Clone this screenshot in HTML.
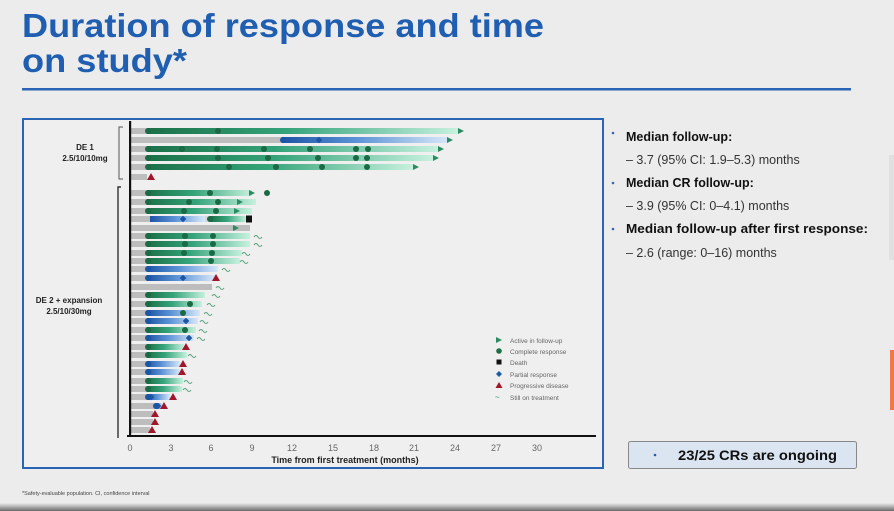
<!DOCTYPE html>
<html><head><meta charset="utf-8"><style>
html,body{margin:0;padding:0;background:#ececec;}
svg{display:block;font-family:"Liberation Sans",sans-serif;}
</style></head><body>
<svg id="s" width="894" height="511" viewBox="0 0 894 511" xmlns="http://www.w3.org/2000/svg">
<defs>
<linearGradient id="gg" x1="0" x2="1" y1="0" y2="0"><stop offset="0" stop-color="#1b7048"/><stop offset="0.45" stop-color="#35a47a"/><stop offset="1" stop-color="#c6f1df"/></linearGradient>
<linearGradient id="bg" x1="0" x2="1" y1="0" y2="0"><stop offset="0" stop-color="#1c55a6"/><stop offset="0.45" stop-color="#5c93d6"/><stop offset="1" stop-color="#d6e7f8"/></linearGradient>
<linearGradient id="sh" x1="0" x2="0" y1="0" y2="1"><stop offset="0" stop-color="#ececec"/><stop offset="1" stop-color="#6a6a6a"/></linearGradient>
</defs>
<rect width="894" height="511" fill="#ececec"/>
<text x="22" y="37" font-size="33" font-weight="bold" fill="#1f5eb0" textLength="522" lengthAdjust="spacingAndGlyphs">Duration of response and time</text>
<text x="22" y="72" font-size="33" font-weight="bold" fill="#1f5eb0" textLength="165" lengthAdjust="spacingAndGlyphs">on study*</text>
<rect x="22" y="88" width="829" height="2.5" fill="#2a64b4"/>
<rect x="23" y="119" width="580" height="349" fill="#efefef" stroke="#2a64b4" stroke-width="2"/>
<g id="bars"></g>
<!-- axes -->
<rect x="129" y="121" width="2.2" height="316" fill="#111"/>
<rect x="127" y="435" width="469" height="2" fill="#111"/>
<g id="ticks" font-size="9" fill="#666" text-anchor="middle">
<text x="130" y="451">0</text><text x="171" y="451">3</text><text x="211" y="451">6</text><text x="252" y="451">9</text><text x="292" y="451">12</text><text x="333" y="451">15</text><text x="374" y="451">18</text><text x="414" y="451">21</text><text x="455" y="451">24</text><text x="496" y="451">27</text><text x="537" y="451">30</text>
</g>
<text x="345" y="463" font-size="9" font-weight="bold" fill="#222" text-anchor="middle">Time from first treatment (months)</text>
<!-- group brackets -->
<path d="M123,127 H119 V179 H123" fill="none" stroke="#555" stroke-width="1"/>
<path d="M121,187 H118 V438" fill="none" stroke="#333" stroke-width="1.4"/>
<text x="85" y="150" font-size="8" font-weight="bold" fill="#222" text-anchor="middle">DE 1</text>
<text x="85" y="161" font-size="8" font-weight="bold" fill="#222" text-anchor="middle">2.5/10/10mg</text>
<text x="69" y="303" font-size="8" font-weight="bold" fill="#222" text-anchor="middle">DE 2 + expansion</text>
<text x="69" y="314" font-size="8" font-weight="bold" fill="#222" text-anchor="middle">2.5/10/30mg</text>
<!-- legend -->
<g font-size="6.5" fill="#666">
<path d="M496,337 L502,340 L496,343Z" fill="#2a8a60"/><text x="510" y="343">Active in follow-up</text>
<circle cx="499" cy="351" r="2.8" fill="#1e6f48"/><text x="510" y="354">Complete response</text>
<rect x="496.5" y="359.5" width="5" height="5" fill="#111"/><text x="510" y="365">Death</text>
<path d="M499,371 L502,374 L499,377 L496,374Z" fill="#1d5aa8"/><text x="510" y="377">Partial response</text>
<path d="M499,382 L502.5,388 L495.5,388Z" fill="#a0162a"/><text x="510" y="388">Progressive disease</text>
<text x="495" y="400" fill="#2a8a60" font-size="8">~</text><text x="510" y="400">Still on treatment</text>
</g>
<!-- right panel -->
<g font-size="12.5" fill="#111">
<circle cx="613" cy="133" r="1.3" fill="#3a6aa6"/><text x="626" y="141" font-weight="bold">Median follow-up:</text>
<text x="626" y="164" fill="#333">–  3.7 (95% CI: 1.9–5.3) months</text>
<circle cx="613" cy="183" r="1.3" fill="#3a6aa6"/><text x="626" y="187" font-weight="bold">Median CR follow-up:</text>
<text x="626" y="210" fill="#333">–  3.9 (95% CI: 0–4.1) months</text>
<circle cx="613" cy="229" r="1.3" fill="#3a6aa6"/><text x="626" y="233" font-weight="bold" textLength="242" lengthAdjust="spacingAndGlyphs">Median follow-up after first response:</text>
<text x="626" y="257" fill="#333">–  2.6 (range: 0–16) months</text>
</g>
<rect x="628.5" y="441.5" width="228" height="27" rx="2" fill="#dbe5f1" stroke="#888" stroke-width="1"/>
<circle cx="655" cy="455" r="1.3" fill="#2a5aa0"/>
<text x="678" y="460" font-size="14" font-weight="bold" fill="#111" textLength="159" lengthAdjust="spacingAndGlyphs">23/25 CRs are ongoing</text>
<text x="22" y="495" font-size="5.5" fill="#444">*Safety-evaluable population. CI, confidence interval</text>
<rect x="889" y="155" width="5" height="105" fill="#e0e0e0"/>
<rect x="890" y="350" width="4" height="60" fill="#ee7a4a"/>
<rect x="0" y="503" width="894" height="8" fill="url(#sh)"/>
</svg>
<script>
var NS="http://www.w3.org/2000/svg",G=document.getElementById("bars");
function el(t,a){var e=document.createElementNS(NS,t);for(var k in a)e.setAttribute(k,a[k]);G.appendChild(e);return e;}
var rows=[
[131,'g',458,[['c',218],['a',461]]],
[140,'b',448,[['p',283],['p',319],['a',450]],282],
[149,'g',438,[['c',182],['c',217],['c',264],['c',310],['c',356],['c',368],['a',441]]],
[158,'g',433,[['c',218],['c',268],['c',318],['c',356],['c',367],['a',436]]],
[167,'g',413,[['c',229],['c',276],['c',322],['c',367],['a',416]]],
[177,'n',147,[['t',151]]],
[193,'g',252,[['c',210],['a',252],['c',267]]],
[202,'g',256,[['c',189],['c',218],['a',240]]],
[211,'g',252,[['c',184],['c',216],['a',237]]],
[219,'x',0,[]],
[228,'n',250,[['a',236]]],
[236,'g',250,[['c',185],['c',213],['s',258]]],
[244,'g',250,[['c',185],['c',213],['s',258]]],
[253,'g',242,[['c',184],['c',212],['s',246]]],
[261,'g',240,[['c',211],['s',244]]],
[269,'b',218,[['s',226]]],
[278,'b',215,[['p',183],['t',216]]],
[287,'n',212,[['s',220]]],
[295,'g',205,[['s',216]]],
[304,'g',202,[['c',190],['s',211]]],
[313,'b',200,[['c',183],['s',208]]],
[321,'b',198,[['p',186],['s',204]]],
[330,'g',196,[['c',185],['s',203]]],
[338,'b',194,[['p',189],['s',201]]],
[347,'g',184,[['t',186]]],
[355,'g',187,[['s',192]]],
[364,'b',180,[['t',183]]],
[372,'b',180,[['t',182]]],
[381,'g',183,[['s',188]]],
[389,'g',182,[['s',187]]],
[397,'b',170,[['p',151],['t',173]]],
[406,'b',162,[['p',158],['t',164]],155],
[414,'n',153,[['t',155]]],
[422,'n',153,[['t',155]]],
[430,'n',150,[['t',152]]]
];
function mk(m,y){var x=m[1];
 if(m[0]=='c')el('circle',{cx:x,cy:y,r:3,fill:'#1a6a45'});
 else if(m[0]=='p')el('path',{d:'M'+x+','+(y-3.3)+' L'+(x+3.3)+','+y+' L'+x+','+(y+3.3)+' L'+(x-3.3)+','+y+'Z',fill:'#1d55a4'});
 else if(m[0]=='a')el('path',{d:'M'+(x-3)+','+(y-3)+' L'+(x+3)+','+y+' L'+(x-3)+','+(y+3)+'Z',fill:'#2a8a60'});
 else if(m[0]=='t')el('path',{d:'M'+x+','+(y-4)+' L'+(x+4)+','+(y+3)+' L'+(x-4)+','+(y+3)+'Z',fill:'#a0162a'});
 else if(m[0]=='s')el('path',{d:'M'+(x-4)+','+(y+1)+' q2,-3 4,0 t4,0',fill:'none',stroke:'#5aa07e','stroke-width':1});
}
rows.forEach(function(r){var y=r[0],t=r[1],e=r[2],gs=r[4]||147;
 if(t=='x'){el('rect',{x:131,y:y-3,width:19,height:6,fill:'#bdbdbd'});
  el('rect',{x:150,y:y-3,width:55,height:6,fill:'url(#bg)'});
  el('rect',{x:205,y:y-3,width:5,height:6,fill:'#d8d8d8'});
  el('rect',{x:210,y:y-3,width:37,height:6,fill:'url(#gg)'});
  mk(['p',183],y);mk(['c',210],y);
  el('rect',{x:246,y:y-3.5,width:6,height:7,fill:'#111'});return;}
 if(t=='n'){el('rect',{x:131,y:y-3,width:e-131,height:6,fill:'#bdbdbd'});}
 else{el('rect',{x:131,y:y-3,width:gs-131,height:6,fill:'#bdbdbd'});
  el('rect',{x:gs,y:y-3,width:e-gs,height:6,fill:t=='g'?'url(#gg)':'url(#bg)'});
  el('circle',{cx:gs+1,cy:y,r:3,fill:t=='g'?'#1b6a45':'#1b55a4'});}
 r[3].forEach(function(m){mk(m,y);});
});
</script>
</body></html>
